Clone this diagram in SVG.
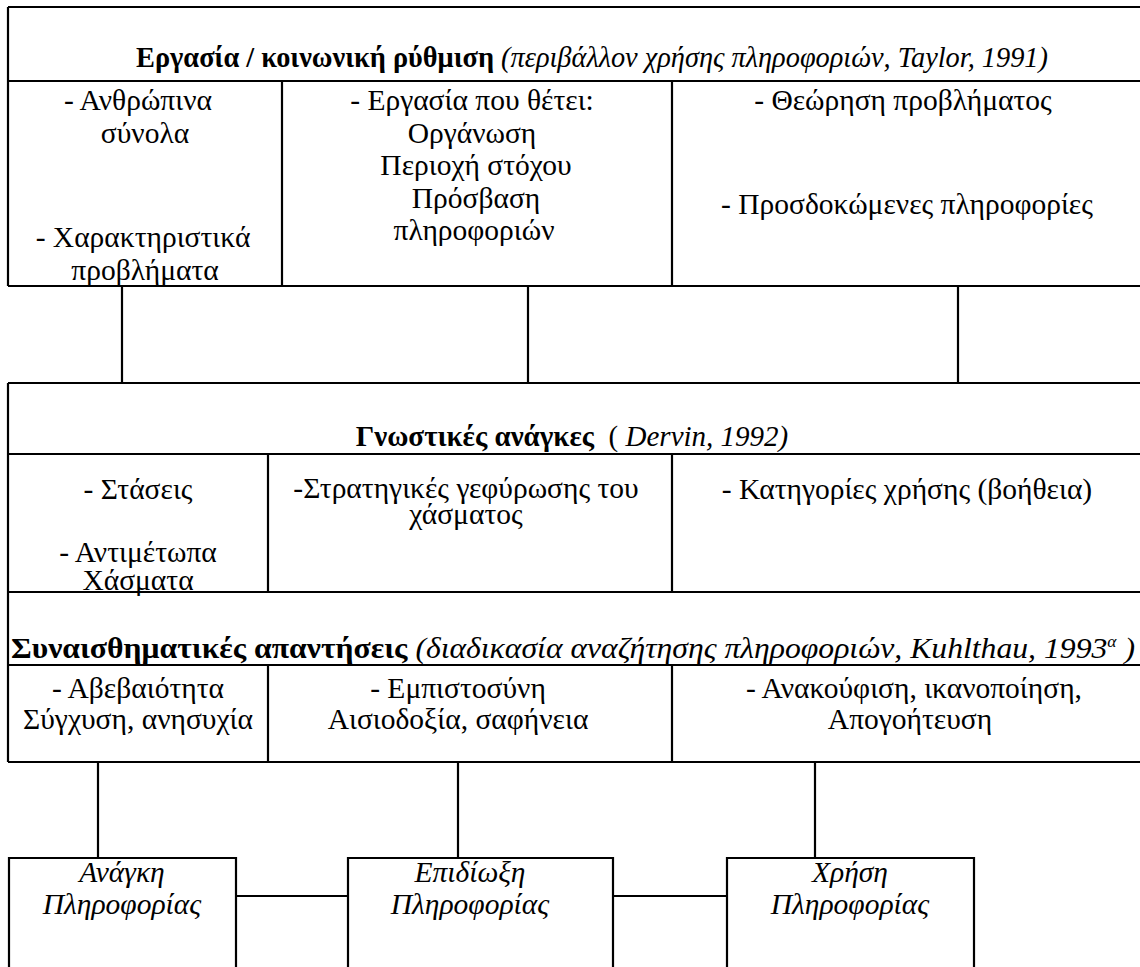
<svg xmlns="http://www.w3.org/2000/svg" width="1140" height="967" viewBox="0 0 1140 967">
  <style>
    .frame { fill: none; stroke: #000; stroke-width: 2.2; }
    .wire { fill: none; stroke: #000; stroke-width: 2.2; }
    text { font-family: "Liberation Serif", "Times New Roman", serif; font-size: 29.5px; fill: #000; }
    .h { font-size: 29px; }
    .c { text-anchor: middle; }
    .b { font-weight: bold; }
    .i { font-style: italic; }
  </style>
  <rect width="1140" height="967" fill="#fff"/>

  <!-- Block 1: work / social setting -->
  <g id="block-work">
    <path class="frame" d="M8,7 H1145 M8,7 V286 M8,81 H1145 M8,286 H1145 M282,81 V286 M672,81 V286"/>
    <text class="c h" x="592" y="67" textLength="912" lengthAdjust="spacingAndGlyphs"><tspan class="b">Εργασία / κοινωνική ρύθμιση</tspan><tspan class="i"> (περιβάλλον χρήσης πληροφοριών, Taylor, 1991)</tspan></text>
    <text class="c" x="138" y="110">- Ανθρώπινα</text>
    <text class="c" x="145" y="143">σύνολα</text>
    <text class="c" x="143" y="247">- Χαρακτηριστικά</text>
    <text class="c" x="145" y="280">προβλήματα</text>
    <text class="c" x="472" y="110">- Εργασία που θέτει:</text>
    <text class="c" x="472" y="143">Οργάνωση</text>
    <text class="c" x="476" y="175">Περιοχή στόχου</text>
    <text class="c" x="476" y="208">Πρόσβαση</text>
    <text class="c" x="474" y="240">πληροφοριών</text>
    <text class="c" x="903" y="110">- Θεώρηση προβλήματος</text>
    <text class="c" x="907" y="214">- Προσδοκώμενες πληροφορίες</text>
  </g>

  <!-- Block 2: cognitive needs -->
  <g id="block-cognitive">
    <path class="frame" d="M8,383 H1145 M8,383 V592 M8,454 H1145 M268,454 V592 M672,454 V592"/>
    <text class="c h" x="572" y="446"><tspan class="b">Γνωστικές ανάγκες</tspan><tspan xml:space="preserve">  ( </tspan><tspan class="i">Dervin, 1992)</tspan></text>
    <text class="c" x="138" y="499">- Στάσεις</text>
    <text class="c" x="138" y="562">- Αντιμέτωπα</text>
    <text class="c" x="138" y="590">Χάσματα</text>
    <text class="c" x="466" y="498">-Στρατηγικές γεφύρωσης του</text>
    <text class="c" x="466" y="524">χάσματος</text>
    <text class="c" x="907" y="499">- Κατηγορίες χρήσης (βοήθεια)</text>
  </g>

  <!-- Block 3: affective responses -->
  <g id="block-affective">
    <path class="frame" d="M8,592 H1145 M8,592 V762 M8,665 H1145 M8,762 H1145 M268,665 V762 M672,665 V762"/>
    <text class="c h" x="573" y="658" textLength="1124" lengthAdjust="spacingAndGlyphs"><tspan class="b">Συναισθηματικές απαντήσεις</tspan><tspan class="i"> (διαδικασία αναζήτησης πληροφοριών, Kuhlthau, 1993</tspan><tspan class="i" font-size="16" dy="-11">α</tspan><tspan class="i" dy="11"> )</tspan></text>
    <text class="c" x="138" y="698">- Αβεβαιότητα</text>
    <text class="c" x="138" y="729">Σύγχυση, ανησυχία</text>
    <text class="c" x="458" y="698">- Εμπιστοσύνη</text>
    <text class="c" x="458" y="729">Αισιοδοξία, σαφήνεια</text>
    <text class="c" x="914" y="698">- Ανακούφιση, ικανοποίηση,</text>
    <text class="c" x="910" y="729">Απογοήτευση</text>
  </g>

  <!-- Information process boxes -->
  <g id="box-need">
    <path class="frame" d="M9,970 V858 H236 V970"/>
    <text class="c i" x="122" y="882">Ανάγκη</text>
    <text class="c i" x="122" y="914">Πληροφορίας</text>
  </g>
  <g id="box-seeking">
    <path class="frame" d="M348,970 V858 H613 V970"/>
    <text class="c i" x="470" y="882">Επιδίωξη</text>
    <text class="c i" x="470" y="914">Πληροφορίας</text>
  </g>
  <g id="box-use">
    <path class="frame" d="M727,970 V858 H974 V970"/>
    <text class="c i" x="850" y="882">Χρήση</text>
    <text class="c i" x="850" y="914">Πληροφορίας</text>
  </g>

  <!-- Connectors -->
  <g id="connectors">
    <path class="wire" d="M122,286 V383 M528,286 V383 M958,286 V383"/>
    <path class="wire" d="M98,762 V858 M458,762 V858 M815,762 V858"/>
    <path class="wire" d="M236,896 H348 M613,896 H727"/>
  </g>
</svg>
